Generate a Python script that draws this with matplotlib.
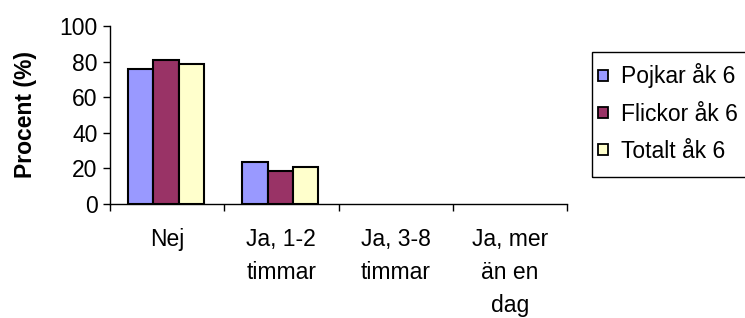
import numpy as np
import matplotlib.pyplot as plt
from matplotlib.patches import Rectangle
from matplotlib.ticker import FixedLocator, NullFormatter

plt.rcParams['font.family'] = ['Liberation Sans', 'DejaVu Sans']

categories = ['Nej', 'Ja, 1-2\ntimmar', 'Ja, 3-8\ntimmar', 'Ja, mer\nän en\ndag']
series = ['Pojkar åk 6', 'Flickor åk 6', 'Totalt åk 6']
pojkar = [76, 23.5, 0, 0]
flickor = [81, 18.5, 0, 0]
totalt = [78.5, 21, 0, 0]
colors = ['#9999FF', '#993366', '#FFFFCC']

W, H = 745, 318
fig = plt.figure(figsize=(W / 100, H / 100), dpi=100)
ax = fig.add_axes([110 / W, 1 - 204 / H, 457 / W, 178 / H])

x = np.arange(len(categories))
w = 0.222
for i, (vals, lab, c) in enumerate(zip([pojkar, flickor, totalt], series, colors)):
    # zero values are not drawn at all in the original
    h = np.array([v if v > 0 else np.nan for v in vals])
    ax.bar(x + (i - 1) * w - 0.01, h, w, color=c, edgecolor='black', linewidth=1.5, label=lab)

ax.set_xlim(-0.5, len(categories) - 0.5)
ax.set_ylim(0, 100)
ax.set_yticks([0, 20, 40, 60, 80, 100])
ax.tick_params(axis='y', labelsize=16.5, length=5, width=1, pad=4)

ax.xaxis.set_major_locator(FixedLocator(np.arange(len(categories) + 1) - 0.5))
ax.xaxis.set_major_formatter(NullFormatter())
ax.xaxis.set_minor_locator(FixedLocator(x))
ax.set_xticklabels(categories, minor=True, fontsize=16.5, linespacing=1.55, va='top')
ax.tick_params(axis='x', which='major', length=5, width=1)
ax.tick_params(axis='x', which='minor', length=0, pad=17.5)

ax.spines['top'].set_visible(False)
ax.spines['right'].set_visible(False)
ax.spines['left'].set_linewidth(1)
ax.spines['bottom'].set_linewidth(1)

ax.set_ylabel('Procent (%)', fontsize=16.5, fontweight='bold', labelpad=16)

# legend entries without frame, frame drawn separately (box runs off the right edge)
leg = fig.legend(loc='center left', bbox_to_anchor=(598 / W, 1 - 113 / H),
                 fontsize=16.5, frameon=False,
                 handlelength=0.42, handleheight=0.36, handletextpad=0.6,
                 labelspacing=0.62, borderpad=0, borderaxespad=0)
for p in leg.get_patches():
    p.set_linewidth(1.3)
fig.patches.append(Rectangle((592 / W, 1 - 177 / H), 160 / W, 125 / H,
                             transform=fig.transFigure, fill=False,
                             edgecolor='black', linewidth=1))

fig.savefig('out.png', dpi=100)
